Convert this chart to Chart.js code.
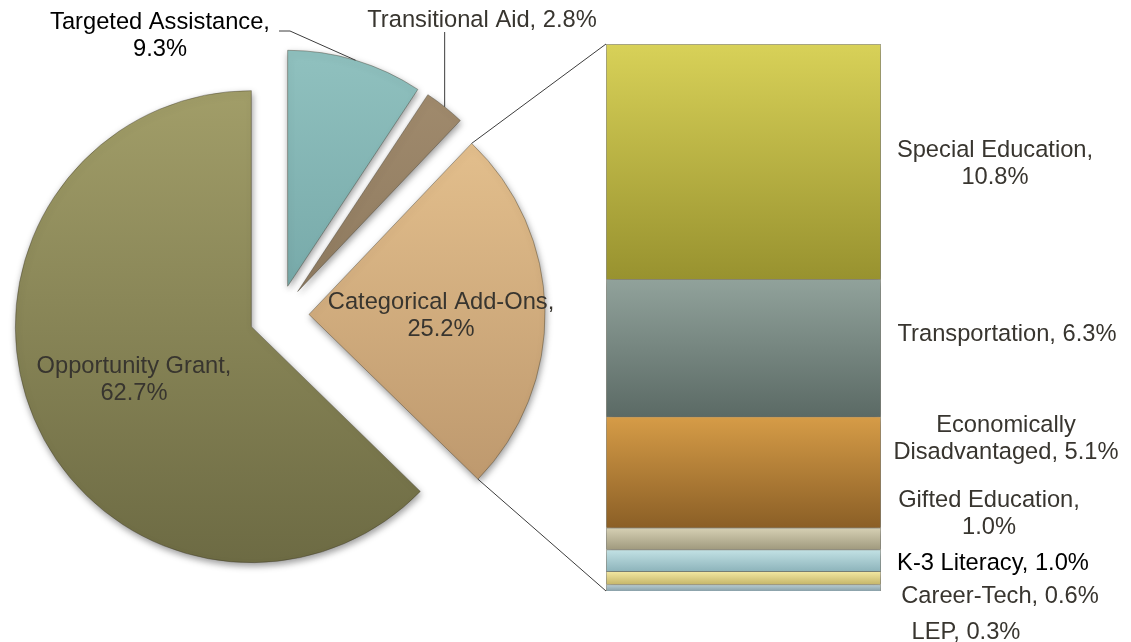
<!DOCTYPE html>
<html>
<head>
<meta charset="utf-8">
<script src="https://cdn.jsdelivr.net/npm/chart.js@4.4.1/dist/chart.umd.min.js"></script>
<style>
  html, body { margin: 0; padding: 0; background: #fff; }
  #wrap { position: relative; width: 1131px; height: 642px; overflow: hidden; }
  #wrap canvas { position: absolute; left: 0; top: 0; }
</style>
</head>
<body>
<div id="wrap">
  <canvas id="pie" width="1131" height="642"></canvas>
  <canvas id="bar" width="1131" height="642"></canvas>
</div>
<script>
// Funding shares (%), pie slices clockwise from 12 o'clock
const pieLabels = ['Targeted Assistance', 'Transitional Aid', 'Categorical Add-Ons', 'Opportunity Grant'];
const pieValues = [9.3, 2.8, 25.2, 62.7];

// Categorical Add-Ons breakdown, top of the bar to the bottom
const barLabels = ['Special Education', 'Transportation', 'Economically Disadvantaged', 'Gifted Education', 'K-3 Literacy', 'Career-Tech', 'LEP'];
const barValues = [10.8, 6.3, 5.1, 1.0, 1.0, 0.6, 0.3];

// gradient stops (top, bottom)
const pieColors = [
    ['#8fc0be', '#5a8e90'],
    ['#a38d6f', '#76644d'],
    ['#ecc894', '#b48f66'],
    ['#a5a16b', '#6c6a43']
];
const barColors = [
    ['#d8d158', '#98922f'],
    ['#91a29b', '#5b6a65'],
    ['#d69c47', '#8b5f26'],
    ['#d6d0b4', '#a09a7e'],
    ['#c3e2e5', '#8db4bb'],
    ['#f3e8a2', '#c6b66a'],
    ['#bacfd4', '#8aa1a9']
];

// where the data labels sit: centre x, first baseline, words on line one
const pieLabelPos = [
    { x: 160, y: 29, split: 2, color: '#000', lead: [[279, 31], [290, 31]] },
    { x: 482, y: 27, split: 0, lead: [[445, 32]] },
    { x: 441, y: 309, split: 2 },
    { x: 134, y: 373, split: 2 }
];
const barLabelPos = [
    { x: 995, y: 157, split: 2 },
    { x: 1007, y: 341, split: 0 },
    { x: 1006, y: 432, split: 1 },
    { x: 989, y: 507, split: 2 },
    { x: 993, y: 570, split: 0, color: '#000' },
    { x: 1000, y: 603, split: 0 },
    { x: 966, y: 639, split: 0 }
];

const FONT = '23.7px "Liberation Sans", Arial, sans-serif';
const TEXT = '#38352f';
const LINE_H = 27;

function labelLines(name, value, split) {
    const words = (name + ', ' + value.toFixed(1) + '%').split(' ');
    if (!split) return [words.join(' ')];
    return [words.slice(0, split).join(' '), words.slice(split).join(' ')];
}

function drawLabel(ctx, name, value, pos) {
    ctx.fillStyle = pos.color || TEXT;
    labelLines(name, value, pos.split).forEach((line, i) => {
        ctx.fillText(line, pos.x, pos.y + i * LINE_H);
    });
}

// pushes every slice out along its bisector
const explode = {
    id: 'explode',
    afterDatasetUpdate(chart, args, opts) {
        args.meta.data.forEach(arc => {
            const mid = (arc.startAngle + arc.endAngle) / 2;
            arc.x += Math.cos(mid) * opts.distance;
            arc.y += Math.sin(mid) * opts.distance;
        });
    }
};

// soft drop shadow under the marks
const shade = {
    id: 'shade',
    beforeDatasetsDraw(chart, args, opts) {
        const c = chart.ctx;
        c.save();
        c.shadowColor = opts.color;
        c.shadowBlur = opts.blur;
        c.shadowOffsetX = opts.dx;
        c.shadowOffsetY = opts.dy;
    },
    afterDatasetsDraw(chart) {
        chart.ctx.restore();
    }
};

const pieChart = new Chart(document.getElementById('pie'), {
    type: 'pie',
    data: {
        labels: pieLabels,
        datasets: [{
            data: pieValues,
            backgroundColor(ctx) {
                if (ctx.type !== 'data') return pieColors[0][0];
                const c = pieColors[ctx.dataIndex];
                const g = ctx.chart.ctx.createLinearGradient(0, 60, 0, 570);
                g.addColorStop(0, c[0]);
                g.addColorStop(1, c[1]);
                return g;
            },
            borderColor: 'rgba(60,55,40,0.4)',
            borderWidth: 1,
            borderJoinStyle: 'round'
        }]
    },
    options: {
        responsive: false,
        animation: false,
        radius: 236,
        layout: { padding: { left: 0, right: 573, top: 0, bottom: 12 } },
        plugins: {
            legend: { display: false },
            tooltip: { enabled: false },
            explode: { distance: 30 },
            shade: { color: 'rgba(0,0,0,0.4)', blur: 7, dx: 1, dy: 3 }
        }
    },
    plugins: [explode, shade]
});

// bar stacks from the bottom up, so feed it reversed
const stackOrder = barValues.map((v, i) => i).reverse();
const barTotal = barValues.reduce((a, b) => a + b, 0);

function segmentBounds(i) {
    let below = 0;
    for (let k = i + 1; k < barValues.length; k++) below += barValues[k];
    return [below, below + barValues[i]];
}

// connectors, leader lines and all data labels
const annotate = {
    id: 'annotate',
    afterDraw(chart) {
        const ctx = chart.ctx;
        const arcs = pieChart.getDatasetMeta(0).data;
        const metas = chart.getSortedVisibleDatasetMetas();
        const topBar = metas[metas.length - 1].data[0];
        const bottomBar = metas[0].data[0];
        const barLeft = topBar.x - topBar.width / 2;

        ctx.save();
        ctx.strokeStyle = '#3c3c3c';
        ctx.lineWidth = 1;

        // lines from the Categorical slice to the bar
        const cat = arcs[2];
        const r = cat.outerRadius;
        ctx.beginPath();
        ctx.moveTo(cat.x + Math.cos(cat.startAngle) * r, cat.y + Math.sin(cat.startAngle) * r);
        ctx.lineTo(barLeft, topBar.y);
        ctx.moveTo(cat.x + Math.cos(cat.endAngle) * r, cat.y + Math.sin(cat.endAngle) * r);
        ctx.lineTo(barLeft, bottomBar.base);
        ctx.stroke();

        // leader lines for labels outside the pie
        pieLabelPos.forEach((pos, i) => {
            if (!pos.lead) return;
            const a = arcs[i];
            const mid = (a.startAngle + a.endAngle) / 2;
            const ex = a.x + Math.cos(mid) * a.outerRadius;
            const ey = a.y + Math.sin(mid) * a.outerRadius;
            ctx.beginPath();
            pos.lead.forEach((p, k) => {
                const px = pos.lead.length === 1 ? ex : p[0];
                if (k === 0) ctx.moveTo(px, p[1]); else ctx.lineTo(px, p[1]);
            });
            ctx.lineTo(ex, ey);
            ctx.stroke();
        });

        ctx.font = FONT;
        ctx.textAlign = 'center';
        ctx.textBaseline = 'alphabetic';
        pieLabels.forEach((name, i) => drawLabel(ctx, name, pieValues[i], pieLabelPos[i]));
        barLabels.forEach((name, i) => drawLabel(ctx, name, barValues[i], barLabelPos[i]));
        ctx.restore();
    }
};

new Chart(document.getElementById('bar'), {
    type: 'bar',
    data: {
        labels: [''],
        datasets: stackOrder.map(i => ({
            label: barLabels[i],
            data: [barValues[i]],
            backgroundColor(ctx) {
                const c = barColors[i];
                const y = ctx.chart.scales.y;
                if (ctx.type !== 'data' || !y) return c[0];
                const [lo, hi] = segmentBounds(i);
                const top = y.getPixelForValue(hi);
                const bottom = y.getPixelForValue(lo);
                // scales are not laid out yet on the first reset pass
                if (!isFinite(top) || !isFinite(bottom)) return c[0];
                const g = ctx.chart.ctx.createLinearGradient(0, top, 0, bottom);
                g.addColorStop(0, c[0]);
                g.addColorStop(1, c[1]);
                return g;
            },
            borderColor: 'rgba(70,70,50,0.5)',
            borderWidth: 1,
            barPercentage: 1,
            categoryPercentage: 1
        }))
    },
    options: {
        responsive: false,
        animation: false,
        layout: { padding: { left: 606, right: 250, top: 44, bottom: 51 } },
        scales: {
            x: { stacked: true, display: false },
            y: { stacked: true, display: false, min: 0, max: barTotal }
        },
        plugins: {
            legend: { display: false },
            tooltip: { enabled: false },
            shade: { color: 'rgba(0,0,0,0.4)', blur: 7, dx: 1, dy: 3 }
        }
    },
    plugins: [shade, annotate]
});
</script>
</body>
</html>
